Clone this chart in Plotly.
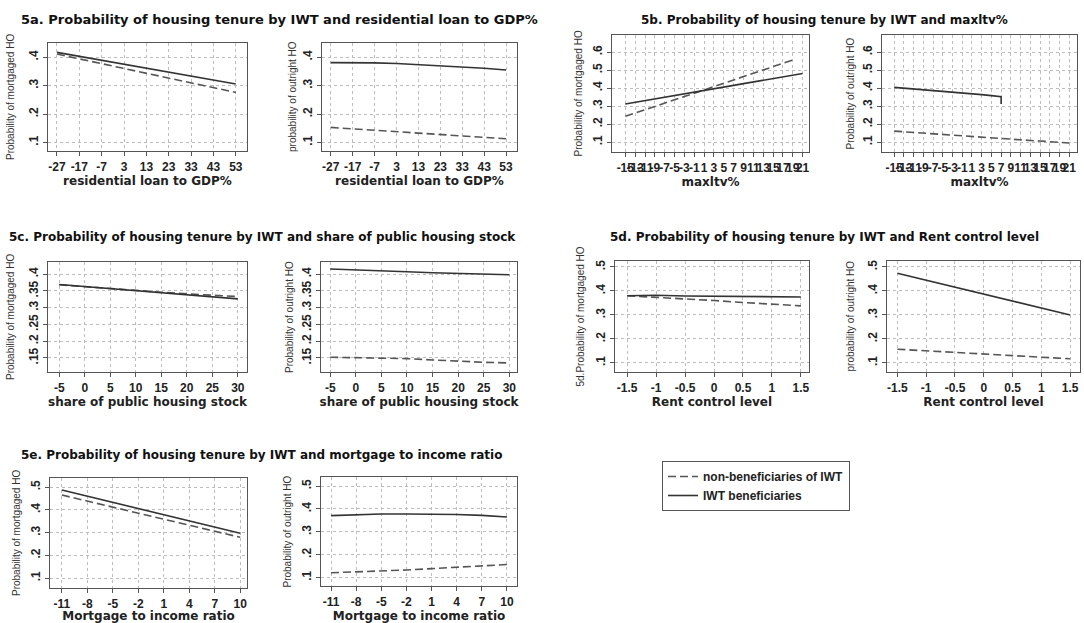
import plotly.graph_objects as go

W, H = 1084, 623
FONT = "Liberation Sans, Arial, sans-serif"
WIDE = "DejaVu Sans, Verdana, sans-serif"

# ---------------- data ----------------
# 5a residential loan to GDP%
x_5a = [-27, -17, -7, 3, 13, 23, 33, 43, 53]
a_mort_iwt = [0.417, 0.403, 0.389, 0.375, 0.361, 0.348, 0.334, 0.320, 0.306]
a_mort_non = [0.411, 0.394, 0.377, 0.360, 0.344, 0.327, 0.310, 0.293, 0.276]
a_out_iwt = [0.381, 0.381, 0.380, 0.378, 0.374, 0.370, 0.366, 0.361, 0.355]
a_out_non = [0.153, 0.148, 0.143, 0.138, 0.133, 0.128, 0.123, 0.118, 0.113]

# 5b maxltv%
x_5b = [-15, -13, -11, -9, -7, -5, -3, -1, 1, 3, 5, 7, 9, 11, 13, 15, 17, 19, 21]
b_mort_iwt = [0.312, 0.321, 0.331, 0.340, 0.350, 0.359, 0.368, 0.378, 0.387, 0.397,
              0.406, 0.415, 0.425, 0.434, 0.444, 0.453, 0.462, 0.472, 0.481]
x_5b_mort_non = [-15, -13, -11, -9, -7, -5, -3, -1, 1, 3, 5, 7, 9, 11, 13, 15, 17, 19]
b_mort_non = [0.243, 0.261, 0.280, 0.298, 0.317, 0.335, 0.353, 0.372, 0.390, 0.409,
              0.427, 0.445, 0.464, 0.482, 0.501, 0.519, 0.537, 0.556]
x_5b_out_iwt = [-15, -13, -11, -9, -7, -5, -3, -1, 1, 3, 5, 7, 7]
b_out_iwt = [0.404, 0.400, 0.396, 0.391, 0.387, 0.382, 0.378, 0.373, 0.369, 0.364, 0.358, 0.352, 0.312]
b_out_non = [0.161, 0.157, 0.154, 0.150, 0.146, 0.143, 0.139, 0.135, 0.132, 0.128,
             0.124, 0.120, 0.117, 0.113, 0.109, 0.106, 0.102, 0.098, 0.095]

# 5c share of public housing stock
x_5c = [-5, 0, 5, 10, 15, 20, 25, 30]
c_mort_iwt = [0.369, 0.363, 0.357, 0.351, 0.346, 0.340, 0.333, 0.326]
c_mort_non = [0.368, 0.362, 0.356, 0.351, 0.346, 0.341, 0.337, 0.333]
c_out_iwt = [0.415, 0.413, 0.410, 0.407, 0.404, 0.402, 0.400, 0.398]
c_out_non = [0.152, 0.151, 0.150, 0.148, 0.144, 0.140, 0.137, 0.135]

# 5d rent control level
x_5d = [-1.5, -1, -0.5, 0, 0.5, 1, 1.5]
d_mort_iwt = [0.380, 0.382, 0.379, 0.378, 0.377, 0.376, 0.375]
d_mort_non = [0.380, 0.374, 0.366, 0.360, 0.352, 0.345, 0.338]
d_out_iwt = [0.474, 0.445, 0.416, 0.387, 0.358, 0.329, 0.300]
d_out_non = [0.157, 0.150, 0.143, 0.137, 0.131, 0.124, 0.117]

# 5e mortgage to income ratio
x_5e = [-11, -8, -5, -2, 1, 4, 7, 10]
e_mort_iwt = [0.487, 0.460, 0.433, 0.406, 0.378, 0.351, 0.324, 0.297]
e_mort_non = [0.465, 0.438, 0.412, 0.385, 0.359, 0.332, 0.306, 0.279]
e_out_iwt = [0.371, 0.376, 0.378, 0.378, 0.378, 0.376, 0.372, 0.365]
e_out_non = [0.121, 0.124, 0.129, 0.133, 0.139, 0.144, 0.150, 0.157]

# tick labels
yt_1to4 = [0.1, 0.2, 0.3, 0.4]
yt_1to6 = [0.1, 0.2, 0.3, 0.4, 0.5, 0.6]
yt_15to4 = [0.15, 0.2, 0.25, 0.3, 0.35, 0.4]
yt_1to5 = [0.1, 0.2, 0.3, 0.4, 0.5]

legend_names = ["non-beneficiaries of IWT", "IWT beneficiaries"]

# (text, center x px, center y px, font size)
titles = [
    ("5a. Probability of housing tenure by IWT and residential loan to GDP%", 279, 20, 13),
    ("5b. Probability of housing tenure by IWT and maxltv%", 824, 20, 12),
    ("5c. Probability of housing tenure by IWT and share of public housing stock", 262, 237, 12),
    ("5d. Probability of housing tenure by IWT and Rent control level", 824, 237, 12),
    ("5e. Probability of housing tenure by IWT and mortgage to income ratio", 261, 455, 12),
]


def ylab(v):
    s = ("%g" % v)
    return s[1:] if s.startswith("0") else s


panels = [
    dict(box=(48, 43, 247, 151), xr=(-31, 58), xt=x_5a, yr=(0.07, 0.45), yt=yt_1to4,
         ytitle="Probability of mortgaged HO", ytx=10, xtitle="residential loan to GDP%",
         non=(x_5a, a_mort_non), iwt=(x_5a, a_mort_iwt)),
    dict(box=(322, 43, 517, 151), xr=(-31, 58), xt=x_5a, yr=(0.07, 0.45), yt=yt_1to4,
         ytitle="probability of outright HO", ytx=292, xtitle="residential loan to GDP%",
         non=(x_5a, a_out_non), iwt=(x_5a, a_out_iwt)),
    dict(box=(612, 35, 809, 152), xr=(-17.7, 22.3), xt=x_5b, yr=(0.045, 0.695), yt=yt_1to6,
         ytitle="Probability of mortgaged HO", ytx=578, xtitle="maxltv%",
         non=(x_5b_mort_non, b_mort_non), iwt=(x_5b, b_mort_iwt)),
    dict(box=(882, 35, 1077, 152), xr=(-17.5, 22.6), xt=x_5b, yr=(0.045, 0.695), yt=yt_1to6,
         ytitle="Probability of outright HO", ytx=850, xtitle="maxltv%",
         non=(x_5b, b_out_non), iwt=(x_5b_out_iwt, b_out_iwt)),
    dict(box=(48, 262, 247, 372), xr=(-7.2, 31.8), xt=x_5c, yr=(0.108, 0.436), yt=yt_15to4,
         ytitle="Probability of mortgaged HO", ytx=10, xtitle="share of public housing stock",
         non=(x_5c, c_mort_non), iwt=(x_5c, c_mort_iwt)),
    dict(box=(321, 262, 517, 372), xr=(-6.8, 31.5), xt=x_5c, yr=(0.108, 0.436), yt=yt_15to4,
         ytitle="Probability of outright HO", ytx=289, xtitle="share of public housing stock",
         non=(x_5c, c_out_non), iwt=(x_5c, c_out_iwt)),
    dict(box=(615, 261, 809, 372), xr=(-1.71, 1.64), xt=x_5d, yr=(0.062, 0.525), yt=yt_1to5,
         ytitle="5d.Probability of mortgaged HO", ytx=580, xtitle="Rent control level",
         non=(x_5d, d_mort_non), iwt=(x_5d, d_mort_iwt)),
    dict(box=(887, 261, 1080, 372), xr=(-1.68, 1.67), xt=x_5d, yr=(0.062, 0.525), yt=yt_1to5,
         ytitle="probability of outright HO", ytx=850, xtitle="Rent control level",
         non=(x_5d, d_out_non), iwt=(x_5d, d_out_iwt)),
    dict(box=(50, 478, 247, 588), xr=(-12.4, 10.8), xt=x_5e, yr=(0.056, 0.54), yt=yt_1to5,
         ytitle="Probability of mortgaged HO", ytx=16, xtitle="Mortgage to income ratio",
         non=(x_5e, e_mort_non), iwt=(x_5e, e_mort_iwt)),
    dict(box=(321, 477, 517, 586), xr=(-12.2, 11.2), xt=x_5e, yr=(0.063, 0.54), yt=yt_1to5,
         ytitle="Probability of outright HO", ytx=287, xtitle="Mortgage to income ratio",
         non=(x_5e, e_out_non), iwt=(x_5e, e_out_iwt)),
]

fig = go.Figure()
layout = dict(
    width=W, height=H, margin=dict(l=0, r=0, t=0, b=0),
    paper_bgcolor="white", plot_bgcolor="white",
    font=dict(family=FONT, color="#222"),
    showlegend=True,
    legend=dict(x=662 / W, y=1 - 461 / H, xanchor="left", yanchor="top",
                bordercolor="#555", borderwidth=1, bgcolor="white",
                font=dict(size=12, family=FONT, color="#222", weight="bold"),
                itemwidth=30, tracegroupgap=0, traceorder="normal"),
)
annotations = []

tickfont = dict(size=12, family=FONT, color="#222", weight="bold")
for i, p in enumerate(panels, start=1):
    x0, y0, x1, y1 = p["box"]
    xa = "xaxis" if i == 1 else f"xaxis{i}"
    ya = "yaxis" if i == 1 else f"yaxis{i}"
    xref = "x" if i == 1 else f"x{i}"
    yref = "y" if i == 1 else f"y{i}"
    common = dict(showline=True, mirror=True, linecolor="#555", linewidth=1.3,
                  ticks="outside", ticklen=4, tickcolor="#555", tickwidth=1,
                  showgrid=True, gridcolor="#bdbdbd", griddash="dot", gridwidth=1,
                  zeroline=False, tickfont=tickfont, fixedrange=True)
    layout[xa] = dict(common, domain=[x0 / W, x1 / W], range=list(p["xr"]), anchor=yref,
                      tickmode="array", tickvals=p["xt"], ticktext=["%g" % v for v in p["xt"]],
                      tickangle=0,
                      title=dict(text=p["xtitle"], standoff=1,
                                 font=dict(size=12, family=WIDE, color="#222", weight="bold")))
    layout[ya] = dict(common, domain=[1 - y1 / H, 1 - y0 / H], range=list(p["yr"]), anchor=xref,
                      tickmode="array", tickvals=p["yt"], ticktext=[ylab(v) for v in p["yt"]],
                      tickangle=-90)
    annotations.append(dict(text=p["ytitle"], x=p["ytx"] / W, y=1 - ((y0 + y1) / 2) / H,
                            xref="paper", yref="paper", textangle=-90, showarrow=False,
                            xanchor="center", yanchor="middle",
                            font=dict(size=10, family=FONT, color="#333")))
    nx, ny = p["non"]
    ix, iy = p["iwt"]
    fig.add_trace(go.Scatter(x=nx, y=ny, mode="lines", xaxis=xref, yaxis=yref,
                             name=legend_names[0], showlegend=(i == 1), legendgroup="non",
                             line=dict(color="#555", width=1.6, dash="8px,4px")))
    fig.add_trace(go.Scatter(x=ix, y=iy, mode="lines", xaxis=xref, yaxis=yref,
                             name=legend_names[1], showlegend=(i == 1), legendgroup="iwt",
                             line=dict(color="#333", width=1.6)))

for t, cx, cy, fs in titles:
    annotations.append(dict(text=t, x=cx / W, y=1 - cy / H, xref="paper", yref="paper",
                            showarrow=False, xanchor="center", yanchor="middle",
                            font=dict(size=fs, family=WIDE, color="#111", weight="bold")))

layout["annotations"] = annotations
fig.update_layout(**layout)
fig.write_html("out.html")
